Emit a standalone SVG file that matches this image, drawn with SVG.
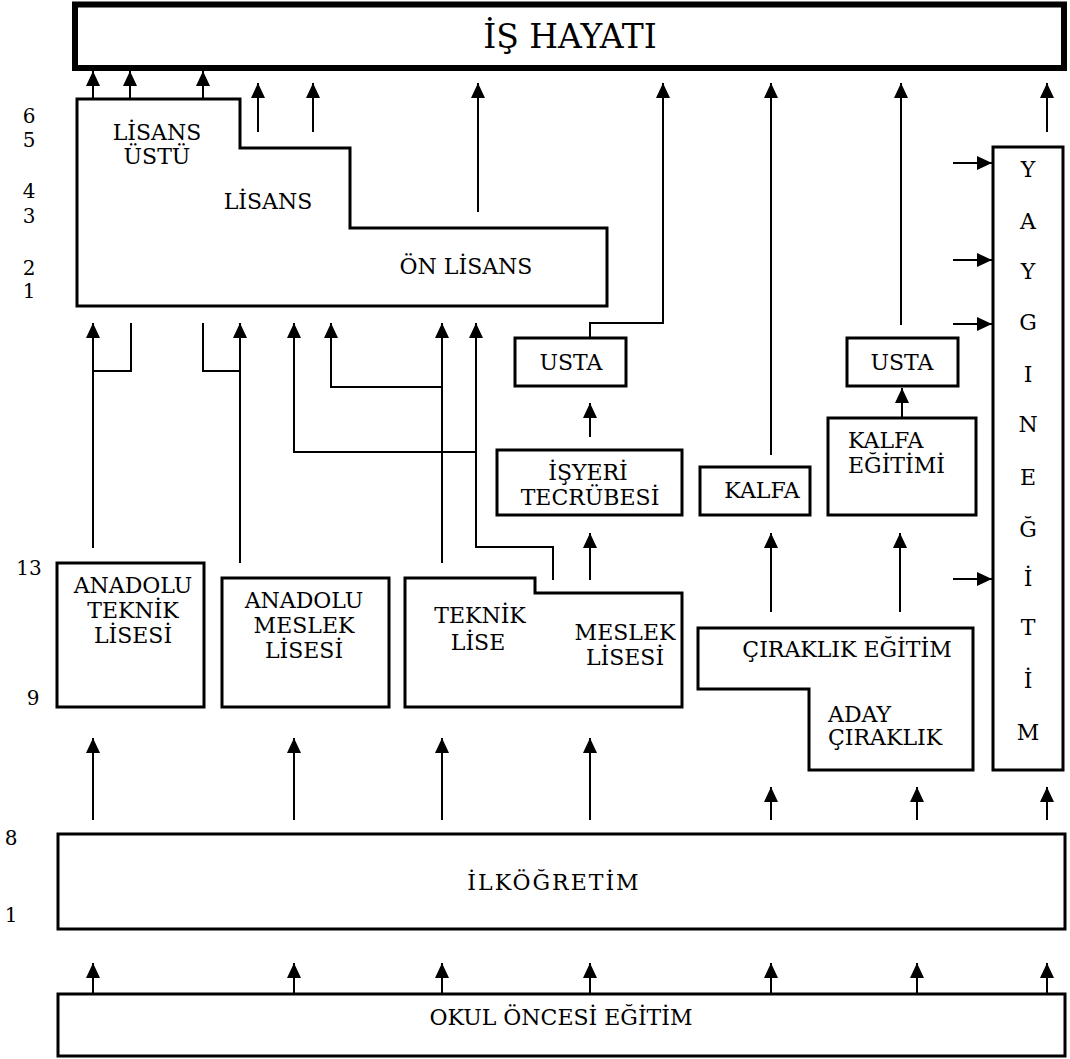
<svg xmlns="http://www.w3.org/2000/svg" width="1070" height="1059" viewBox="0 0 1070 1059" font-family="DejaVu Serif, serif">
<style>
.box{fill:#fff;stroke:#000;stroke-width:3}
.big{fill:#fff;stroke:#000;stroke-width:6}
.ln{fill:none;stroke:#000;stroke-width:2}
.t{font-size:22px;fill:#000;text-anchor:middle}
.s{font-size:22px;fill:#000;text-anchor:start}
.n{font-size:20px;fill:#000;text-anchor:middle}
.h{font-size:33px;fill:#000;text-anchor:middle}
</style>
<defs>
<marker id="ar" viewBox="0 0 15 14" refX="15" refY="7" markerWidth="15" markerHeight="14" markerUnits="userSpaceOnUse" orient="auto">
<path d="M0,0 L15,7 L0,14 z" fill="#000"/>
</marker>
</defs>
<rect width="1070" height="1059" fill="#fff"/>

<g id="levels">
<text class="n" x="29" y="123">6</text>
<text class="n" x="29" y="147">5</text>
<text class="n" x="29" y="198">4</text>
<text class="n" x="29" y="223">3</text>
<text class="n" x="29" y="275">2</text>
<text class="n" x="29" y="298">1</text>
<text class="n" x="29" y="575">13</text>
<text class="n" x="33" y="705">9</text>
<text class="n" x="11" y="845">8</text>
<text class="n" x="11" y="922">1</text>
</g>

<g id="is-hayati">
<rect class="big" x="75" y="4.5" width="989" height="63.5"/>
<text class="h" x="570" y="48">İŞ HAYATI</text>
</g>

<g id="yuksekogretim">
<path class="box" d="M77,99 H240 V148 H350 V228 H607 V306 H77 Z"/>
<text class="t" x="157" y="140">LİSANS</text>
<text class="t" x="157" y="164">ÜSTÜ</text>
<text class="t" x="268" y="209">LİSANS</text>
<text class="t" x="466" y="274">ÖN LİSANS</text>
</g>

<g id="yaygin">
<rect class="box" x="993" y="147" width="70" height="623"/>
<text class="t" x="1028" y="177">Y</text>
<text class="t" x="1028" y="229">A</text>
<text class="t" x="1028" y="279">Y</text>
<text class="t" x="1028" y="330">G</text>
<text class="t" x="1028" y="382">I</text>
<text class="t" x="1028" y="432">N</text>
<text class="t" x="1028" y="485">E</text>
<text class="t" x="1028" y="537">Ğ</text>
<text class="t" x="1028" y="586">İ</text>
<text class="t" x="1028" y="635">T</text>
<text class="t" x="1028" y="688">İ</text>
<text class="t" x="1028" y="740">M</text>
</g>

<g id="usta1">
<rect class="box" x="515" y="338" width="111" height="48"/>
<text class="t" x="571" y="370">USTA</text>
</g>
<g id="isyeri">
<rect class="box" x="497" y="450" width="185" height="65"/>
<text class="t" x="588" y="480">İŞYERİ</text>
<text class="t" x="590" y="505">TECRÜBESİ</text>
</g>
<g id="kalfa">
<rect class="box" x="700" y="467" width="110" height="48"/>
<text class="t" x="762" y="498">KALFA</text>
</g>
<g id="kalfa-egitimi">
<rect class="box" x="828" y="418" width="148" height="97"/>
<text class="s" x="848" y="448">KALFA</text>
<text class="s" x="848" y="473">EĞİTİMİ</text>
</g>
<g id="usta2">
<rect class="box" x="847" y="338" width="111" height="48"/>
<text class="t" x="902" y="370">USTA</text>
</g>

<g id="anadolu-teknik">
<rect class="box" x="57" y="563" width="147" height="144"/>
<text class="t" x="133" y="593">ANADOLU</text>
<text class="t" x="133" y="618">TEKNİK</text>
<text class="t" x="133" y="643">LİSESİ</text>
</g>
<g id="anadolu-meslek">
<rect class="box" x="222" y="578" width="167" height="129"/>
<text class="t" x="304" y="608">ANADOLU</text>
<text class="t" x="304" y="633">MESLEK</text>
<text class="t" x="304" y="658">LİSESİ</text>
</g>
<g id="teknik-meslek">
<path class="box" d="M405,578 H535 V593 H682 V707 H405 Z"/>
<text class="t" x="480" y="623">TEKNİK</text>
<text class="t" x="478" y="650">LİSE</text>
<text class="t" x="625" y="640">MESLEK</text>
<text class="t" x="625" y="665">LİSESİ</text>
</g>
<g id="ciraklik">
<path class="box" d="M698,628 H973 V770 H809 V689 H698 Z"/>
<text class="t" x="847" y="657">ÇIRAKLIK EĞİTİM</text>
<text class="s" x="828" y="722">ADAY</text>
<text class="s" x="828" y="745">ÇIRAKLIK</text>
</g>

<g id="ilkogretim">
<rect class="box" x="58" y="834" width="1007" height="95"/>
<text class="t" x="554" y="890" letter-spacing="2">İLKÖĞRETİM</text>
</g>
<g id="okul-oncesi">
<rect class="box" x="58" y="994" width="1007" height="62"/>
<text class="t" x="561" y="1025">OKUL ÖNCESİ EĞİTİM</text>
</g>

<g id="connectors">
<path class="ln" d="M93,99 V71" marker-end="url(#ar)"/>
<path class="ln" d="M130,99 V71" marker-end="url(#ar)"/>
<path class="ln" d="M203,99 V71" marker-end="url(#ar)"/>
<path class="ln" d="M258,132 V83" marker-end="url(#ar)"/>
<path class="ln" d="M313,132 V83" marker-end="url(#ar)"/>
<path class="ln" d="M478,212 V83" marker-end="url(#ar)"/>
<path class="ln" d="M590,338 V323 H663 V83" marker-end="url(#ar)"/>
<path class="ln" d="M771,455 V83" marker-end="url(#ar)"/>
<path class="ln" d="M901,325 V83" marker-end="url(#ar)"/>
<path class="ln" d="M1047,132 V83" marker-end="url(#ar)"/>
<path class="ln" d="M953,163 H992" marker-end="url(#ar)"/>
<path class="ln" d="M953,260 H992" marker-end="url(#ar)"/>
<path class="ln" d="M953,324 H992" marker-end="url(#ar)"/>
<path class="ln" d="M953,579 H992" marker-end="url(#ar)"/>
<path class="ln" d="M93,548 V323" marker-end="url(#ar)"/>
<path class="ln" d="M93,371 H131 V323"/>
<path class="ln" d="M240,563 V323" marker-end="url(#ar)"/>
<path class="ln" d="M240,371 H203 V323"/>
<path class="ln" d="M442,563 V323" marker-end="url(#ar)"/>
<path class="ln" d="M442,387 H331 V323" marker-end="url(#ar)"/>
<path class="ln" d="M553,580 V547 H476 V323" marker-end="url(#ar)"/>
<path class="ln" d="M476,452 H294 V323" marker-end="url(#ar)"/>
<path class="ln" d="M590,437 V403" marker-end="url(#ar)"/>
<path class="ln" d="M590,580 V533" marker-end="url(#ar)"/>
<path class="ln" d="M771,612 V533" marker-end="url(#ar)"/>
<path class="ln" d="M900,612 V533" marker-end="url(#ar)"/>
<path class="ln" d="M902,418 V388" marker-end="url(#ar)"/>
<path class="ln" d="M93,820 V738" marker-end="url(#ar)"/>
<path class="ln" d="M294,820 V738" marker-end="url(#ar)"/>
<path class="ln" d="M442,820 V738" marker-end="url(#ar)"/>
<path class="ln" d="M590,820 V738" marker-end="url(#ar)"/>
<path class="ln" d="M771,820 V787" marker-end="url(#ar)"/>
<path class="ln" d="M917,820 V787" marker-end="url(#ar)"/>
<path class="ln" d="M1047,820 V787" marker-end="url(#ar)"/>
<path class="ln" d="M93,994 V963" marker-end="url(#ar)"/>
<path class="ln" d="M294,994 V963" marker-end="url(#ar)"/>
<path class="ln" d="M442,994 V963" marker-end="url(#ar)"/>
<path class="ln" d="M590,994 V963" marker-end="url(#ar)"/>
<path class="ln" d="M771,994 V963" marker-end="url(#ar)"/>
<path class="ln" d="M917,994 V963" marker-end="url(#ar)"/>
<path class="ln" d="M1047,994 V963" marker-end="url(#ar)"/>
</g>
</svg>
